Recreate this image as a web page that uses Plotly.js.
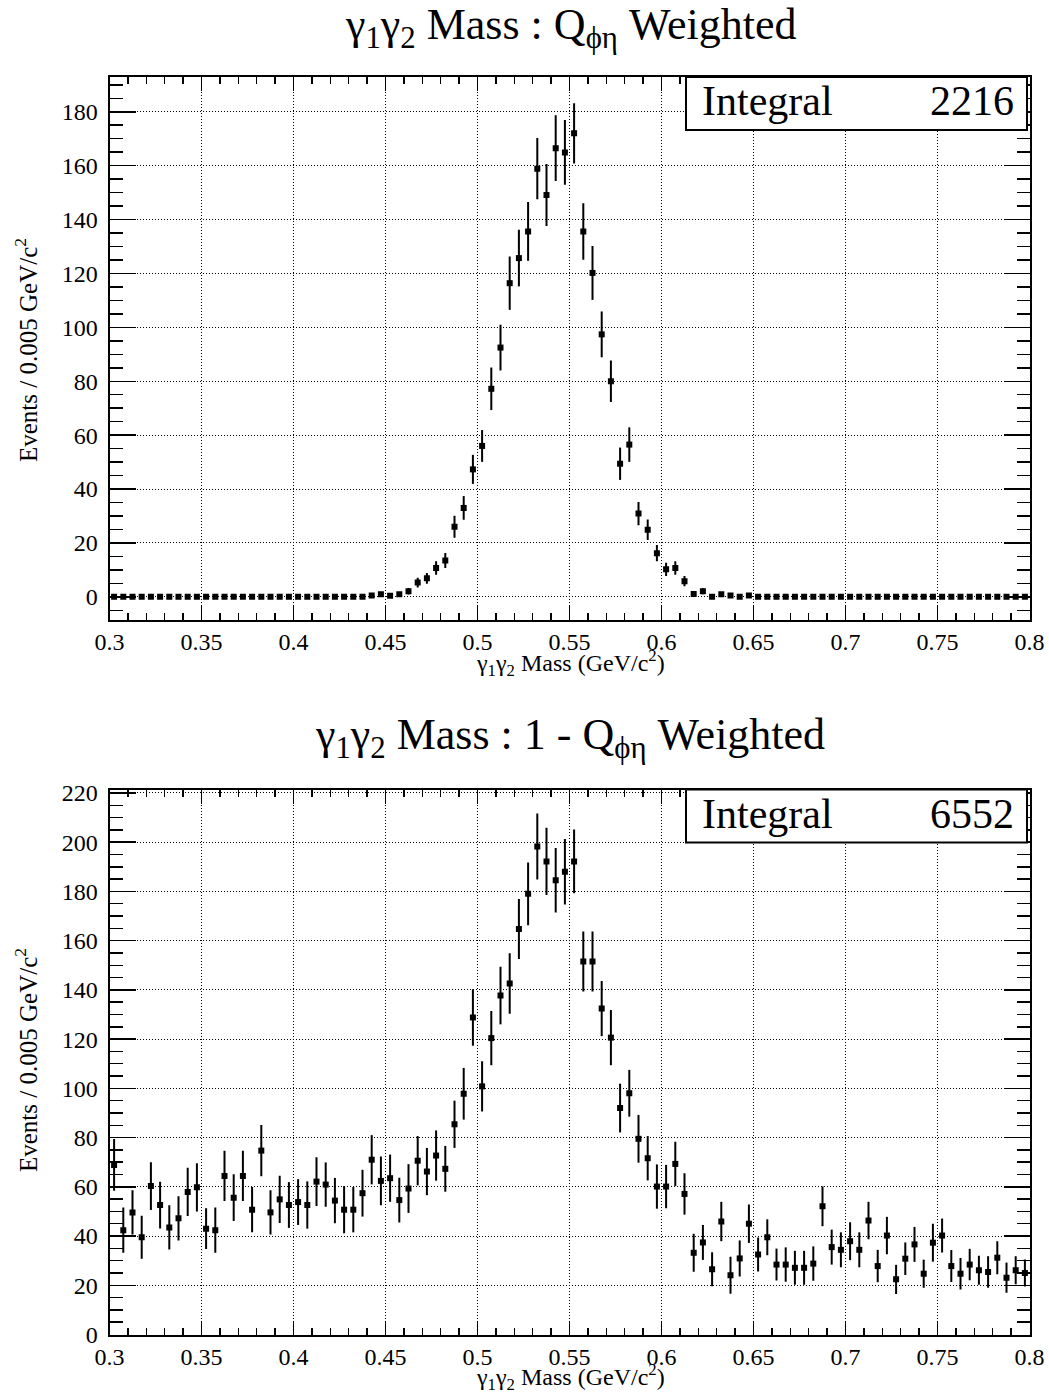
<!DOCTYPE html>
<html><head><meta charset="utf-8">
<script src="https://cdn.plot.ly/plotly-3.0.1.min.js"></script>
<style>html,body{margin:0;padding:0;background:#fff}#chart{width:1049px;height:1395px}</style>
</head><body><div id="chart"></div>
<script>
// Histogram binning: 100 bins of 0.005 GeV/c^2 from 0.3 to 0.8
const massBinLow = 0.3, massBinWidth = 0.005, massBinCount = 100;
const massBinCenters = Array.from({length: massBinCount}, (_, i) => +(massBinLow + massBinWidth * (i + 0.5)).toFixed(4));

// Top: Q weighted
const qWeightedEvents = [
  0,0,0,0,0,0,0,0,0,0,
  0,0,0,0,0,0,0,0,0,0,
  0,0,0,0,0,0,0,0,0.5,1.0,
  0.4,1.0,2.1,5.3,6.9,10.7,13.5,26,33,47.3,
  56,77.2,92.5,116.4,125.7,135.6,158.9,149.1,166.5,164.9,
  172,135.6,120.2,97.4,80,49.4,56.5,30.9,24.9,16.2,
  10.2,10.7,5.8,1.1,2.1,0,1.0,0.5,0,0.5,
  0,0,0,0,0,0,0,0,0,0,
  0,0,0,0,0,0,0,0,0,0,
  0,0,0,0,0,0,0,0,0,0
];
const qWeightedErrors = [
  0,0,0,0,0,0,0,0,0,0,
  0,0,0,0,0,0,0,0,0,0,
  0,0,0,0,0,0,0,0,0.5,0.8,
  0.5,0.8,1.2,1.8,2.0,2.5,2.8,4.1,4.4,5.4,
  5.9,7.9,8.5,9.9,10.5,10.9,11.4,11.5,12.2,12.0,
  11.2,10.5,10.0,8.5,7.7,6.0,6.4,4.3,3.8,3.0,
  2.5,2.5,1.9,0.8,1.1,0,0.8,0.5,0,0.5,
  0,0,0,0,0,0,0,0,0,0,
  0,0,0,0,0,0,0,0,0,0,
  0,0,0,0,0,0,0,0,0,0
];

// Bottom: 1 - Q weighted
const antiQWeightedEvents = [
  68.9,42.4,49.6,39.5,60.3,52.6,43.5,47.2,57.9,59.8,
  43.0,42.4,64.4,55.6,64.4,50.7,74.7,49.6,54.9,52.6,
  53.8,52.6,62.1,60.9,54.4,50.7,50.7,57.4,71.0,62.4,
  63.5,54.6,59.3,70.6,66.2,72.7,67.3,85.4,97.8,128.8,
  100.8,120.4,137.7,142.6,164.7,179.0,198.2,192.2,184.5,188.0,
  192.2,151.5,151.5,132.4,120.6,92.0,98.0,79.5,71.6,60.1,
  60.1,69.3,57.1,33.2,37.4,26.5,45.9,24.1,30.9,45.0,
  32.5,39.5,28.4,28.4,27.1,27.1,28.8,52.1,35.5,34.4,
  37.9,34.4,46.3,27.8,40.2,22.4,30.8,36.6,24.7,37.3,
  40.2,27.8,24.7,28.4,26.1,25.4,31.2,23.1,26.1,25.0
];
const antiQWeightedErrors = [
  10.5,9.2,9.0,8.7,9.7,9.5,9.0,9.0,9.8,9.8,
  8.3,9.2,10.2,9.5,10.2,9.2,10.4,9.0,9.6,9.3,
  9.3,9.6,9.9,9.0,9.2,9.6,9.2,9.5,10.0,9.9,
  9.6,9.1,9.9,10.0,9.6,10.2,9.3,9.6,10.5,11.5,
  10.2,11.0,11.7,12.3,12.2,12.7,13.4,13.7,13.1,13.3,
  12.9,12.2,12.2,11.2,11.2,9.9,9.5,9.7,9.0,9.0,
  8.8,9.0,8.4,7.7,7.1,6.9,8.0,7.5,7.3,7.8,
  6.9,7.3,6.5,7.0,6.9,6.9,7.0,8.1,7.1,7.1,
  7.7,7.1,7.6,6.6,7.6,5.9,6.6,7.1,5.7,7.7,
  6.9,6.5,6.4,6.4,5.9,6.4,6.7,6.1,5.7,5.5
];

const xTickVals = [0.3,0.35,0.4,0.45,0.5,0.55,0.6,0.65,0.7,0.75,0.8];
const xTickText = ["0.3","0.35","0.4","0.45","0.5","0.55","0.6","0.65","0.7","0.75","0.8"];
const topYTicks = [0,20,40,60,80,100,120,140,160,180];
const bottomYTicks = [0,20,40,60,80,100,120,140,160,180,200,220];
const integralValues = ["2216","6552"];
const panelTitles = [
  "γ<sub>1</sub>γ<sub>2</sub> Mass : Q<sub>ϕη</sub> Weighted",
  "γ<sub>1</sub>γ<sub>2</sub> Mass : 1 - Q<sub>ϕη</sub> Weighted"
];
const xTitle = "γ<sub>1</sub>γ<sub>2</sub> Mass (GeV/c<sup>2</sup>)";
const yTitle = "Events / 0.005 GeV/c<sup>2</sup>";

const W = 1049, H = 1395;
const px = v => v / W;
const py = v => 1 - v / H;
const FONT = "Liberation Serif, Times New Roman, serif";

function histTrace(y, err, xa, ya) {
  return {
    type: 'scatter', mode: 'markers', x: massBinCenters, y: y,
    xaxis: xa, yaxis: ya,
    marker: {symbol: 'square', size: 6, color: '#000'},
    error_y: {type: 'data', array: err, visible: true, width: 0, thickness: 2, color: '#000'},
    hoverinfo: 'x+y', showlegend: false
  };
}

const xDomain = [px(109.5), px(1029.5)];
function xAxis(anchor) {
  return {
    domain: xDomain, range: [0.3, 0.8], anchor: anchor,
    tickmode: 'array', tickvals: xTickVals, ticktext: xTickText,
    ticks: 'inside', ticklen: 14, tickwidth: 1.5, tickcolor: '#000',
    minor: {tickmode: 'linear', tick0: 0.3, dtick: 0.01, ticks: 'inside', ticklen: 7, tickwidth: 1.5, tickcolor: '#000', showgrid: false},
    showline: true, linecolor: '#000', linewidth: 2, mirror: 'allticks',
    showgrid: true, gridcolor: '#000', gridwidth: 1, griddash: '1px,2px',
    zeroline: false, ticklabelstandoff: 0,
    tickfont: {family: FONT, size: 24, color: '#000'}
  };
}
function yAxis(domain, range, ticks, anchor) {
  return {
    domain: domain, range: range, anchor: anchor,
    tickmode: 'array', tickvals: ticks, ticktext: ticks.map(String),
    ticks: 'inside', ticklen: 26, tickwidth: 1.5, tickcolor: '#000',
    minor: {tickmode: 'linear', tick0: 0, dtick: 5, ticks: 'inside', ticklen: 13, tickwidth: 1.5, tickcolor: '#000', showgrid: false},
    showline: true, linecolor: '#000', linewidth: 2, mirror: 'allticks',
    showgrid: true, gridcolor: '#000', gridwidth: 1, griddash: '1px,2px',
    zeroline: false, ticklabelstandoff: 5,
    tickfont: {family: FONT, size: 24, color: '#000'}
  };
}

const panels = [
  {top: 77, bottom: 619.5, titleY: 27, xTitleY: 663, yTitleY: 350},
  {top: 789.5, bottom: 1334.5, titleY: 737, xTitleY: 1377, yTitleY: 1060}
];

const annotations = [];
const shapes = [];
panels.forEach((p, k) => {
  annotations.push({xref: 'paper', yref: 'paper', x: px(570), y: py(p.titleY), xanchor: 'center', yanchor: 'middle',
    text: panelTitles[k], showarrow: false, font: {family: FONT, size: 44, color: '#000'}});
  annotations.push({xref: 'paper', yref: 'paper', x: px(570), y: py(p.xTitleY), xanchor: 'center', yanchor: 'middle',
    text: xTitle, showarrow: false, font: {family: FONT, size: 24, color: '#000'}});
  annotations.push({xref: 'paper', yref: 'paper', x: px(26), y: py(p.yTitleY), xanchor: 'center', yanchor: 'middle',
    text: yTitle, textangle: -90, showarrow: false, font: {family: FONT, size: 25, color: '#000'}});
  shapes.push({type: 'rect', xref: 'paper', yref: 'paper', x0: px(686), x1: px(1027), y0: py(p.top), y1: py(p.top + 53),
    line: {color: '#000', width: 2}, fillcolor: '#fff', layer: 'above'});
  annotations.push({xref: 'paper', yref: 'paper', x: px(700), y: py(p.top + 24), xanchor: 'left', yanchor: 'middle',
    text: 'Integral', showarrow: false, font: {family: FONT, size: 42, color: '#000'}});
  annotations.push({xref: 'paper', yref: 'paper', x: px(1016), y: py(p.top + 24), xanchor: 'right', yanchor: 'middle',
    text: integralValues[k], showarrow: false, font: {family: FONT, size: 42, color: '#000'}});
});

const layout = {
  width: W, height: H, margin: {l: 0, r: 0, t: 0, b: 0},
  paper_bgcolor: '#fff', plot_bgcolor: '#fff', showlegend: false,
  xaxis: xAxis('y'),
  yaxis: yAxis([py(panels[0].bottom), py(panels[0].top)], [-8.4, 192.9], topYTicks, 'x'),
  xaxis2: xAxis('y2'),
  yaxis2: yAxis([py(panels[1].bottom), py(panels[1].top)], [0, 221.4], bottomYTicks, 'x2'),
  annotations: annotations, shapes: shapes
};

Plotly.newPlot('chart', [
  histTrace(qWeightedEvents, qWeightedErrors, 'x', 'y'),
  histTrace(antiQWeightedEvents, antiQWeightedErrors, 'x2', 'y2')
], layout, {staticPlot: true});
</script></body></html>
